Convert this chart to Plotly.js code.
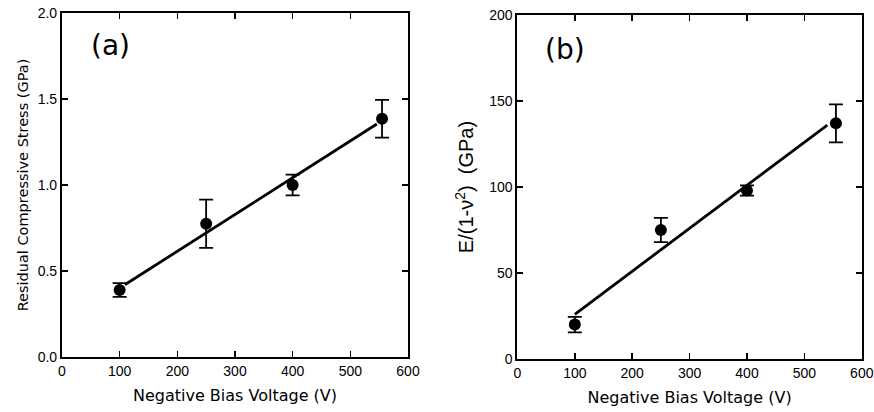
<!DOCTYPE html>
<html>
<head>
<meta charset="utf-8">
<script src="https://cdn.plot.ly/plotly-3.0.1.min.js"></script>
<style>html,body{margin:0;padding:0;background:#fff;}#chart{width:874px;height:412px;}</style>
</head>
<body>
<div id="chart"></div>
<script>
// ---- data ----
const biasVoltage = [100, 250, 400, 555];

// (a) residual compressive stress (GPa)
const stressA = [0.39, 0.775, 1.0, 1.385];
const stressErrA = [0.04, 0.14, 0.06, 0.11];
const fitXA = [109, 546];
const fitYA = [0.42, 1.355];

// (b) biaxial modulus E/(1-nu^2) (GPa)
const modulusB = [20, 75, 98, 137];
const modulusErrB = [4.5, 7, 3, 11];
const fitXB = [100, 540];
const fitYB = [26, 136];

const xTickVals = [0, 100, 200, 300, 400, 500, 600];
const yTickValsA = [0.0, 0.5, 1.0, 1.5, 2.0];
const yTickValsB = [0, 50, 100, 150, 200];

// ---- styling ----
const tickFont = {family: 'Liberation Sans, Arial, sans-serif', size: 14, color: '#000'};
const titleFont = {family: 'DejaVu Sans, sans-serif', size: 16, color: '#000'};

function axisBase(extra) {
  return Object.assign({
    showline: true, linecolor: '#000', linewidth: 2, mirror: 'ticks',
    ticks: 'inside', ticklen: 6, tickwidth: 1.5, tickcolor: '#000',
    showgrid: false, zeroline: false, tickfont: tickFont, fixedrange: true,
    ticklabeloverflow: 'allow'
  }, extra);
}

const markerStyle = {color: '#000', size: 12, symbol: 'circle'};
const errStyle = (arr) => ({type: 'data', array: arr, visible: true, color: '#000', thickness: 1.8, width: 7});

const traces = [
  {x: fitXA, y: fitYA, mode: 'lines', line: {color: '#000', width: 2.8}, xaxis: 'x', yaxis: 'y', hoverinfo: 'skip'},
  {x: biasVoltage, y: stressA, mode: 'markers', marker: markerStyle, error_y: errStyle(stressErrA), xaxis: 'x', yaxis: 'y'},
  {x: fitXB, y: fitYB, mode: 'lines', line: {color: '#000', width: 2.8}, xaxis: 'x2', yaxis: 'y2', hoverinfo: 'skip'},
  {x: biasVoltage, y: modulusB, mode: 'markers', marker: markerStyle, error_y: errStyle(modulusErrB), xaxis: 'x2', yaxis: 'y2'}
];

const layout = {
  width: 874, height: 412,
  margin: {l: 0, r: 0, t: 0, b: 0},
  paper_bgcolor: '#fff', plot_bgcolor: '#fff',
  showlegend: false,
  xaxis: axisBase({domain: [0.0709, 0.4668], range: [0, 600], tickvals: xTickVals, anchor: 'y',
    title: {text: 'Negative Bias Voltage (V)', font: titleFont, standoff: 12}}),
  yaxis: axisBase({domain: [0.1335, 0.9684], range: [0, 2], tickvals: yTickValsA, tickformat: '.1f', anchor: 'x',
    title: {text: 'Residual Compressive Stress (GPa)', font: {family: 'DejaVu Sans, sans-serif', size: 14.5, color: '#000'}, standoff: 6}}),
  xaxis2: axisBase({domain: [0.592, 0.986], range: [0, 600], tickvals: xTickVals, anchor: 'y2',
    title: {text: 'Negative Bias Voltage (V)', font: titleFont, standoff: 12}}),
  yaxis2: axisBase({domain: [0.1286, 0.9636], range: [0, 200], tickvals: yTickValsB, anchor: 'x2',
    title: {text: 'E/(1-\u03bd<sup>2</sup>)  (GPa)', font: {family: 'Liberation Sans, Arial, sans-serif', size: 20, color: '#000'}, standoff: 10}}),
  annotations: [
    {text: '(a)', x: 85, y: 1.81, xref: 'x', yref: 'y', showarrow: false, font: {family: 'DejaVu Sans, sans-serif', size: 28, color: '#000'}},
    {text: '(b)', x: 83, y: 180, xref: 'x2', yref: 'y2', showarrow: false, font: {family: 'DejaVu Sans, sans-serif', size: 28, color: '#000'}}
  ]
};

Plotly.newPlot('chart', traces, layout, {displayModeBar: false, staticPlot: true});
</script>
</body>
</html>
